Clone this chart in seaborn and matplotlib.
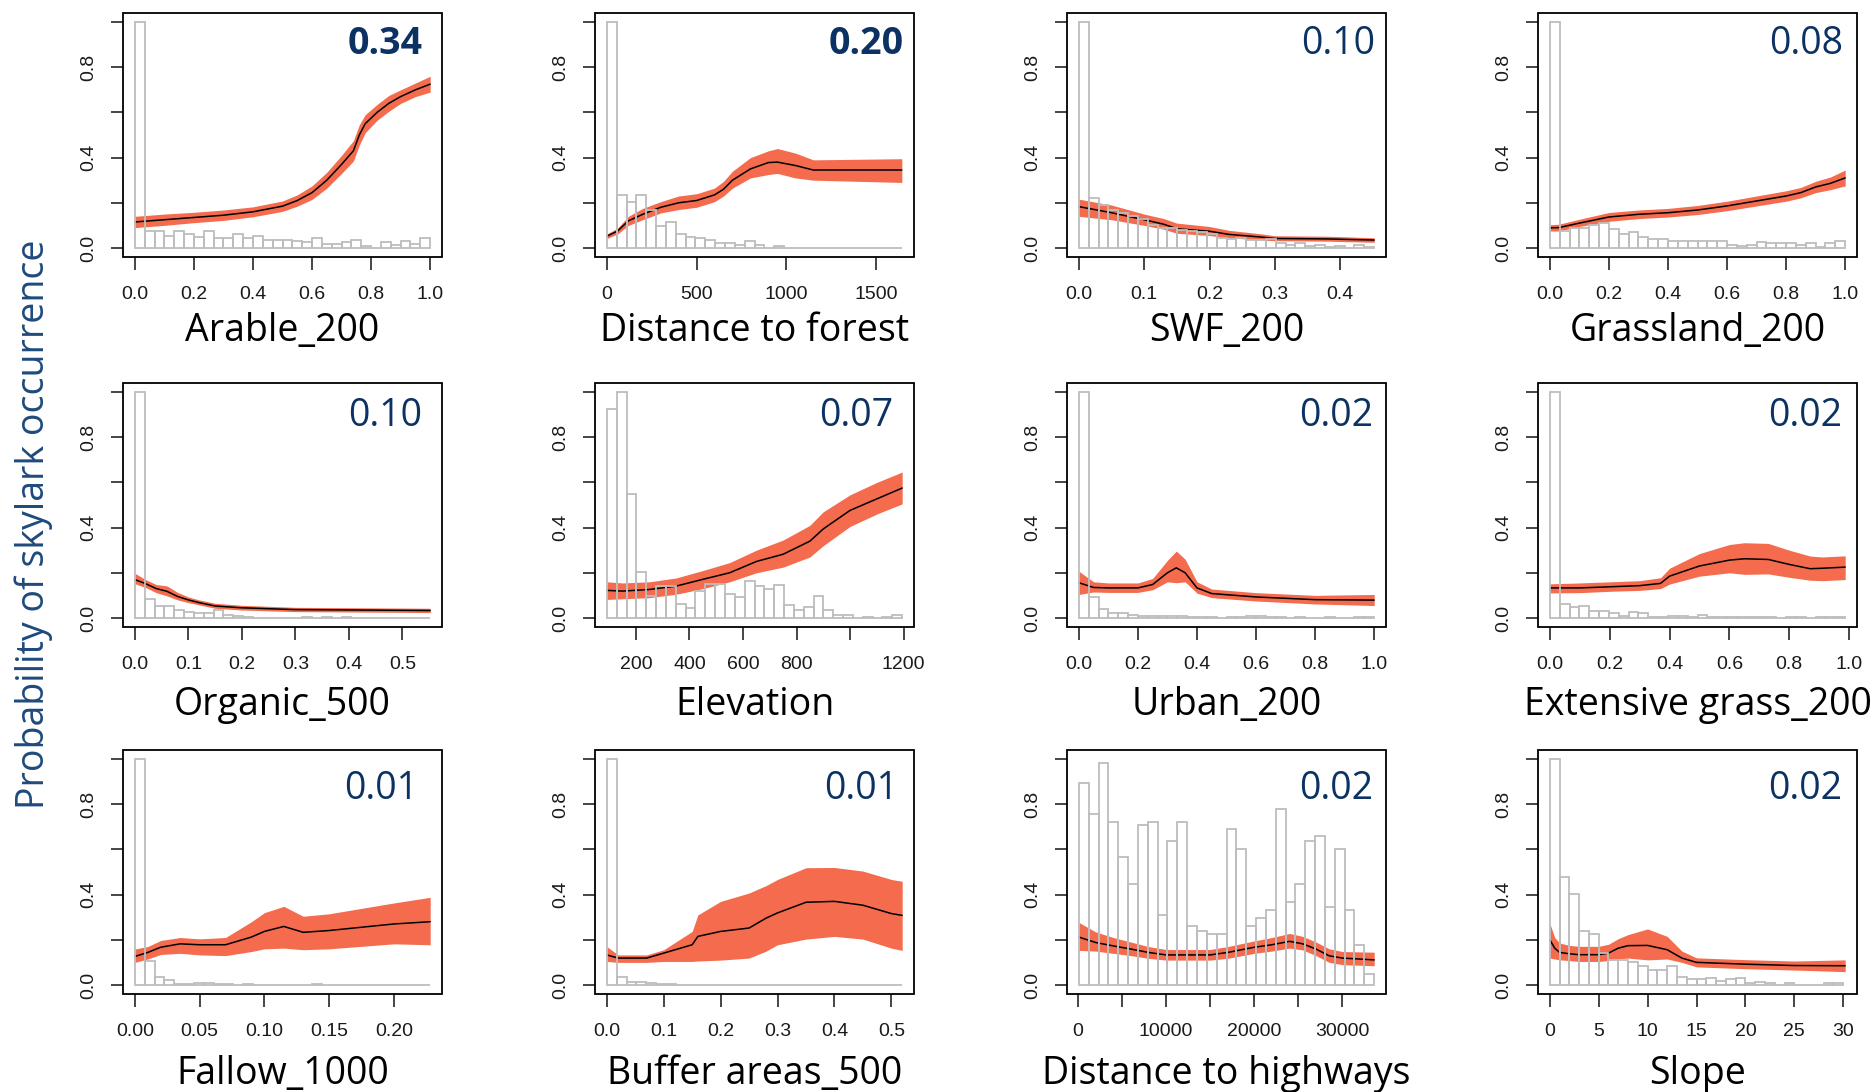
import numpy as np
import matplotlib
matplotlib.use("Agg")
import matplotlib.pyplot as plt
from matplotlib.patches import Rectangle
import seaborn as sns

# ---- data (partial dependence plots) ----
# 1 Arable_200
arable_x = [0, 0.1, 0.2, 0.3, 0.4, 0.5, 0.55, 0.6, 0.65, 0.7, 0.74, 0.76, 0.78, 0.82, 0.86, 0.9, 0.95, 1.0]
arable_mean = [0.115, 0.125, 0.135, 0.145, 0.16, 0.185, 0.21, 0.245, 0.30, 0.37, 0.43, 0.50, 0.55, 0.60, 0.64, 0.67, 0.70, 0.725]
arable_lo = [0.09, 0.10, 0.112, 0.122, 0.138, 0.162, 0.185, 0.215, 0.265, 0.33, 0.385, 0.455, 0.51, 0.565, 0.605, 0.64, 0.67, 0.69]
arable_hi = [0.14, 0.15, 0.158, 0.168, 0.182, 0.208, 0.235, 0.275, 0.335, 0.41, 0.475, 0.545, 0.59, 0.635, 0.675, 0.70, 0.73, 0.76]
arable_hist = [1.0, 0.077, 0.077, 0.055, 0.077, 0.064, 0.05, 0.077, 0.042, 0.042, 0.064, 0.042, 0.055, 0.034, 0.034,
               0.034, 0.03, 0.027, 0.042, 0.019, 0.019, 0.027, 0.034, 0.007, 0.0, 0.027, 0.015, 0.03, 0.019, 0.042]

# 2 Distance to forest
forest_x = [0, 60, 120, 200, 300, 400, 500, 600, 650, 700, 800, 900, 950, 1050, 1150, 1643]
forest_mean = [0.052, 0.075, 0.12, 0.149, 0.18, 0.20, 0.21, 0.235, 0.26, 0.30, 0.35, 0.378, 0.38, 0.365, 0.345, 0.345]
forest_lo = [0.042, 0.062, 0.10, 0.125, 0.155, 0.17, 0.18, 0.205, 0.23, 0.265, 0.31, 0.325, 0.33, 0.31, 0.30, 0.29]
forest_hi = [0.062, 0.088, 0.14, 0.175, 0.205, 0.23, 0.24, 0.265, 0.295, 0.34, 0.40, 0.43, 0.44, 0.42, 0.39, 0.395]
forest_hist = [1.0, 0.234, 0.204, 0.234, 0.168, 0.097, 0.115, 0.064, 0.05, 0.042, 0.034, 0.02, 0.02, 0.015, 0.03,
               0.015, 0.0, 0.007, 0, 0, 0, 0, 0, 0, 0, 0, 0, 0, 0, 0]

# 3 SWF_200
swf_x = [0, 0.05, 0.1, 0.13, 0.15, 0.2, 0.23, 0.28, 0.3, 0.38, 0.452]
swf_mean = [0.183, 0.156, 0.125, 0.105, 0.085, 0.074, 0.06, 0.048, 0.042, 0.04, 0.035]
swf_lo = [0.14, 0.125, 0.10, 0.083, 0.065, 0.055, 0.045, 0.035, 0.032, 0.03, 0.025]
swf_hi = [0.216, 0.19, 0.15, 0.13, 0.11, 0.095, 0.078, 0.062, 0.054, 0.052, 0.045]
swf_hist = [1.0, 0.219, 0.19, 0.17, 0.155, 0.14, 0.13, 0.10, 0.09, 0.09, 0.08, 0.075, 0.07, 0.06, 0.045,
            0.04, 0.045, 0.035, 0.035, 0.04, 0.02, 0.015, 0.02, 0.01, 0.015, 0.005, 0.01, 0.0, 0.015, 0.005]

# 4 Grassland_200
grass_x = [0, 0.03, 0.1, 0.2, 0.3, 0.4, 0.5, 0.6, 0.7, 0.8, 0.85, 0.9, 0.95, 1.0]
grass_mean = [0.089, 0.09, 0.11, 0.137, 0.149, 0.156, 0.168, 0.186, 0.208, 0.23, 0.245, 0.27, 0.286, 0.31]
grass_lo = [0.075, 0.075, 0.095, 0.118, 0.13, 0.137, 0.148, 0.165, 0.186, 0.207, 0.222, 0.245, 0.258, 0.275]
grass_hi = [0.103, 0.105, 0.127, 0.157, 0.168, 0.175, 0.188, 0.207, 0.23, 0.253, 0.268, 0.295, 0.314, 0.345]
grass_hist = [1.0, 0.074, 0.09, 0.09, 0.10, 0.11, 0.082, 0.06, 0.07, 0.05, 0.04, 0.04, 0.03, 0.03, 0.03,
              0.03, 0.03, 0.03, 0.015, 0.01, 0.015, 0.025, 0.02, 0.02, 0.02, 0.015, 0.02, 0.005, 0.02, 0.03]

# 5 Organic_500
organic_x = [0, 0.02, 0.04, 0.06, 0.08, 0.1, 0.12, 0.15, 0.2, 0.3, 0.552]
organic_mean = [0.17, 0.152, 0.13, 0.118, 0.095, 0.08, 0.068, 0.053, 0.045, 0.037, 0.033]
organic_lo = [0.152, 0.135, 0.112, 0.098, 0.08, 0.068, 0.058, 0.043, 0.035, 0.028, 0.024]
organic_hi = [0.198, 0.17, 0.148, 0.142, 0.113, 0.093, 0.08, 0.065, 0.056, 0.047, 0.043]
organic_hist = [1.0, 0.084, 0.055, 0.055, 0.035, 0.025, 0.02, 0.02, 0.034, 0.012, 0.01, 0.005, 0.002, 0.002, 0.002,
                0.002, 0.0, 0.003, 0.0, 0.003, 0.0, 0.003, 0, 0, 0, 0, 0, 0, 0, 0]

# 6 Elevation
elev_x = [91, 150, 250, 350, 450, 550, 650, 750, 850, 900, 1000, 1100, 1195]
elev_mean = [0.122, 0.119, 0.126, 0.141, 0.171, 0.2, 0.25, 0.282, 0.34, 0.394, 0.476, 0.527, 0.575]
elev_lo = [0.082, 0.085, 0.09, 0.105, 0.13, 0.16, 0.2, 0.225, 0.27, 0.32, 0.405, 0.46, 0.505]
elev_hi = [0.16, 0.155, 0.16, 0.177, 0.21, 0.245, 0.3, 0.345, 0.41, 0.47, 0.545, 0.6, 0.646]
elev_hist = [0.926, 1.0, 0.55, 0.205, 0.097, 0.14, 0.14, 0.062, 0.042, 0.12, 0.15, 0.15, 0.107, 0.092, 0.163,
             0.141, 0.126, 0.146, 0.056, 0.034, 0.049, 0.097, 0.037, 0.012, 0.012, 0.0, 0.004, 0.0, 0.004, 0.015]

# 7 Urban_200
urban_x = [0, 0.05, 0.1, 0.2, 0.25, 0.3, 0.33, 0.36, 0.4, 0.45, 0.6, 0.8, 1.0]
urban_mean = [0.156, 0.135, 0.133, 0.133, 0.148, 0.2, 0.222, 0.2, 0.133, 0.108, 0.093, 0.081, 0.079]
urban_lo = [0.104, 0.115, 0.113, 0.113, 0.125, 0.16, 0.156, 0.16, 0.11, 0.09, 0.075, 0.062, 0.055]
urban_hi = [0.207, 0.16, 0.155, 0.155, 0.175, 0.255, 0.296, 0.26, 0.16, 0.128, 0.112, 0.1, 0.104]
urban_hist = [1.0, 0.092, 0.04, 0.02, 0.02, 0.012, 0.01, 0.01, 0.01, 0.01, 0.01, 0.003, 0.003, 0.003, 0.0,
              0.003, 0.003, 0.01, 0.01, 0.003, 0.003, 0.0, 0.003, 0.0, 0.0, 0.003, 0.0, 0.0, 0.003, 0.003]

# 8 Extensive grass_200
extgr_x = [0, 0.1, 0.2, 0.3, 0.37, 0.4, 0.5, 0.6, 0.65, 0.73, 0.8, 0.87, 0.91, 0.987]
extgr_mean = [0.133, 0.133, 0.138, 0.143, 0.153, 0.185, 0.23, 0.256, 0.262, 0.259, 0.237, 0.218, 0.22, 0.225]
extgr_lo = [0.111, 0.112, 0.118, 0.122, 0.13, 0.15, 0.185, 0.2, 0.193, 0.195, 0.18, 0.167, 0.165, 0.17]
extgr_hi = [0.151, 0.155, 0.16, 0.165, 0.178, 0.22, 0.285, 0.325, 0.333, 0.33, 0.3, 0.274, 0.27, 0.275]
extgr_hist = [1.0, 0.062, 0.047, 0.055, 0.03, 0.032, 0.02, 0.01, 0.025, 0.02, 0.005, 0.003, 0.01, 0.01, 0.005,
              0.012, 0.003, 0.003, 0.003, 0.003, 0.003, 0.003, 0.003, 0.0, 0.003, 0.003, 0.0, 0.003, 0.003, 0.003]

# 9 Fallow_1000
fallow_x = [0, 0.01, 0.02, 0.035, 0.05, 0.07, 0.09, 0.1, 0.115, 0.13, 0.15, 0.2, 0.228]
fallow_mean = [0.126, 0.144, 0.167, 0.182, 0.178, 0.178, 0.212, 0.237, 0.259, 0.233, 0.241, 0.27, 0.28]
fallow_lo = [0.1, 0.115, 0.135, 0.14, 0.133, 0.13, 0.148, 0.16, 0.163, 0.156, 0.16, 0.182, 0.178]
fallow_hi = [0.159, 0.17, 0.197, 0.21, 0.204, 0.21, 0.28, 0.32, 0.348, 0.304, 0.315, 0.363, 0.388]
fallow_hist = [1.0, 0.104, 0.034, 0.02, 0.005, 0.005, 0.01, 0.008, 0.005, 0.003, 0.0, 0.005, 0, 0, 0,
               0, 0, 0, 0.005, 0, 0, 0, 0, 0, 0, 0, 0, 0, 0, 0]

# 10 Buffer areas_500
buffer_x = [0, 0.02, 0.07, 0.1, 0.15, 0.16, 0.2, 0.25, 0.28, 0.3, 0.35, 0.4, 0.45, 0.5, 0.519]
buffer_mean = [0.133, 0.119, 0.119, 0.141, 0.178, 0.215, 0.237, 0.252, 0.296, 0.319, 0.366, 0.37, 0.353, 0.316, 0.308]
buffer_lo = [0.104, 0.1, 0.1, 0.104, 0.104, 0.106, 0.11, 0.119, 0.15, 0.178, 0.203, 0.215, 0.203, 0.163, 0.153]
buffer_hi = [0.17, 0.133, 0.133, 0.156, 0.237, 0.31, 0.37, 0.407, 0.44, 0.467, 0.519, 0.52, 0.504, 0.467, 0.459]
buffer_hist = [1.0, 0.035, 0.012, 0.012, 0.007, 0.005, 0.003, 0, 0, 0, 0, 0, 0, 0, 0,
               0, 0, 0, 0, 0, 0, 0, 0, 0, 0, 0, 0, 0, 0, 0]

# 11 Distance to highways
highway_x = [100, 2000, 4000, 6000, 8000, 10000, 15000, 17000, 20000, 22000, 24000, 25500, 27000, 28500, 30000, 33600]
highway_mean = [0.212, 0.188, 0.173, 0.159, 0.144, 0.133, 0.133, 0.144, 0.167, 0.178, 0.193, 0.182, 0.159, 0.129, 0.119, 0.111]
highway_lo = [0.153, 0.15, 0.14, 0.13, 0.118, 0.11, 0.11, 0.118, 0.14, 0.15, 0.163, 0.155, 0.13, 0.1, 0.09, 0.085]
highway_hi = [0.277, 0.235, 0.21, 0.19, 0.17, 0.157, 0.157, 0.17, 0.195, 0.21, 0.228, 0.215, 0.19, 0.16, 0.148, 0.145]
highway_hist = [0.896, 0.756, 0.981, 0.721, 0.567, 0.449, 0.707, 0.721, 0.311, 0.637, 0.721, 0.259, 0.237, 0.225, 0.225,
                0.692, 0.604, 0.259, 0.296, 0.33, 0.778, 0.366, 0.449, 0.637, 0.659, 0.345, 0.604, 0.33, 0.175, 0.047]

# 12 Slope
slope_x = [0, 0.5, 1, 2, 3, 5, 6, 7, 8, 10, 12, 13.5, 15, 20, 25, 30.2]
slope_mean = [0.2, 0.163, 0.144, 0.138, 0.134, 0.134, 0.141, 0.163, 0.174, 0.175, 0.156, 0.119, 0.1, 0.092, 0.086, 0.085]
slope_lo = [0.119, 0.115, 0.111, 0.108, 0.104, 0.104, 0.108, 0.115, 0.119, 0.111, 0.115, 0.1, 0.08, 0.072, 0.066, 0.059]
slope_hi = [0.272, 0.21, 0.186, 0.175, 0.171, 0.171, 0.18, 0.205, 0.223, 0.248, 0.215, 0.15, 0.12, 0.112, 0.106, 0.111]
slope_hist = [1.0, 0.478, 0.401, 0.241, 0.226, 0.141, 0.111, 0.111, 0.1, 0.085, 0.067, 0.067, 0.082, 0.034, 0.025,
              0.025, 0.03, 0.019, 0.025, 0.03, 0.007, 0.015, 0.007, 0.0, 0.007, 0.0, 0.0, 0.0, 0.007, 0.007]

var_names = ["Arable_200", "Distance to forest", "SWF_200", "Grassland_200",
             "Organic_500", "Elevation", "Urban_200", "Extensive grass_200",
             "Fallow_1000", "Buffer areas_500", "Distance to highways", "Slope"]
importance = ["0.34", "0.20", "0.10", "0.08", "0.10", "0.07", "0.02", "0.02", "0.01", "0.01", "0.02", "0.02"]
bold_importance = [True, True] + [False] * 10
hist_ranges = [(0, 1), (0, 1645), (0, 0.452), (0, 1), (0, 0.552), (91, 1195),
               (0, 1), (0, 0.987), (0, 0.228), (0, 0.519), (100, 33600), (0, 30)]

r01 = [0, 0.2, 0.4, 0.6, 0.8, 1.0]
r01_lab = ["0.0", "0.2", "0.4", "0.6", "0.8", "1.0"]
x_ticks = [r01, [0, 500, 1000, 1500], [0, 0.1, 0.2, 0.3, 0.4], r01,
           [0, 0.1, 0.2, 0.3, 0.4, 0.5], [200, 400, 600, 800, 1000, 1200], r01, r01,
           [0, 0.05, 0.10, 0.15, 0.20], [0, 0.1, 0.2, 0.3, 0.4, 0.5],
           [0, 5000, 10000, 15000, 20000, 25000, 30000], [0, 5, 10, 15, 20, 25, 30]]
x_ticklabels = [r01_lab, ["0", "500", "1000", "1500"], ["0.0", "0.1", "0.2", "0.3", "0.4"], r01_lab,
                ["0.0", "0.1", "0.2", "0.3", "0.4", "0.5"], ["200", "400", "600", "800", "", "1200"],
                r01_lab, r01_lab, ["0.00", "0.05", "0.10", "0.15", "0.20"],
                ["0.0", "0.1", "0.2", "0.3", "0.4", "0.5"],
                ["0", "", "10000", "", "20000", "", "30000"], ["0", "5", "10", "15", "20", "25", "30"]]
y_ticks = [0, 0.2, 0.4, 0.6, 0.8, 1.0]
y_ticklabels = ["0.0", "", "0.4", "", "0.8", ""]

panels = [
    (arable_x, arable_mean, arable_lo, arable_hi, arable_hist),
    (forest_x, forest_mean, forest_lo, forest_hi, forest_hist),
    (swf_x, swf_mean, swf_lo, swf_hi, swf_hist),
    (grass_x, grass_mean, grass_lo, grass_hi, grass_hist),
    (organic_x, organic_mean, organic_lo, organic_hi, organic_hist),
    (elev_x, elev_mean, elev_lo, elev_hi, elev_hist),
    (urban_x, urban_mean, urban_lo, urban_hi, urban_hist),
    (extgr_x, extgr_mean, extgr_lo, extgr_hi, extgr_hist),
    (fallow_x, fallow_mean, fallow_lo, fallow_hi, fallow_hist),
    (buffer_x, buffer_mean, buffer_lo, buffer_hi, buffer_hist),
    (highway_x, highway_mean, highway_lo, highway_hi, highway_hist),
    (slope_x, slope_mean, slope_lo, slope_hi, slope_hist),
]

# ---- style ----
sns.set_style("white")
plt.rcParams["font.family"] = ["Open Sans", "DejaVu Sans"]

band_col = "#F46B4E"
hist_col = "#BDBDBD"
num_col = "#0B3262"
ylab_col = "#1E4A7C"
tick_col = "#1a1a1a"

W, H = 1876, 1092
fig = plt.figure(figsize=(W / 100, H / 100), dpi=100)

col_left = [123, 595, 1067, 1538]
row_top = [13, 383, 750]
box_w, box_h = 319, 244
xlab_y = [-0.345, -0.36, -0.37]       # baseline of variable name, per row
num_y = [0.83, 0.825, 0.8]            # baseline of importance value, per row
num_x = [0.94, 0.969, 0.966, 0.956, 0.937, 0.934, 0.96, 0.953, 0.925, 0.95, 0.96, 0.953]

for i, (xs, mean, lo, hi, hist) in enumerate(panels):
    r, c = divmod(i, 4)
    ax = fig.add_axes([col_left[c] / W, 1 - (row_top[r] + box_h) / H, box_w / W, box_h / H])

    # confidence band, fitted mean, then unfilled histogram on top (as in R)
    ax.fill_between(xs, lo, hi, color=band_col, lw=0, zorder=1)
    sns.lineplot(x=xs, y=mean, color="black", linewidth=1.1, ax=ax, zorder=2)

    h0, h1 = hist_ranges[i]
    edges = np.linspace(h0, h1, len(hist) + 1)
    ax.bar(edges[:-1], hist, width=np.diff(edges), align="edge", fill=False,
           edgecolor=hist_col, linewidth=1.3, zorder=3)

    x0, x1 = min(xs[0], h0), max(xs[-1], h1)
    ext = (x1 - x0) * 0.04
    ax.set_xlim(x0 - ext, x1 + ext)
    ax.set_ylim(-0.04, 1.04)

    for s in ax.spines.values():
        s.set_visible(False)
    ax.add_patch(Rectangle((0, 0), 1, 1, transform=ax.transAxes, fill=False,
                           edgecolor="black", lw=1.3, clip_on=False, zorder=5))

    ax.tick_params(axis="x", direction="out", length=9, width=1.2, pad=12, bottom=True,
                   labelsize=14, labelcolor=tick_col, labelfontfamily="Liberation Sans")
    ax.tick_params(axis="y", direction="out", length=8.5, width=1.2, pad=10, left=True,
                   labelsize=14, labelcolor=tick_col, labelfontfamily="Liberation Sans")
    ax.set_xticks(x_ticks[i])
    ax.set_xticklabels(x_ticklabels[i], fontsize=14, family="Liberation Sans", color=tick_col)
    ax.set_yticks(y_ticks)
    ax.set_yticklabels(y_ticklabels, fontsize=14, family="Liberation Sans", color=tick_col,
                       rotation=90, va="center")

    ax.set_xlabel("")
    ax.set_ylabel("")
    ax.text(0.5, xlab_y[r], var_names[i], transform=ax.transAxes, ha="center", va="baseline",
            fontsize=27, color="black")
    ax.text(num_x[i], num_y[r], importance[i], transform=ax.transAxes, ha="right", va="baseline",
            fontsize=27, color=num_col, fontweight="bold" if bold_importance[i] else "normal")

fig.text(0.018, 0.52, "Probability of skylark occurrence", rotation=90, ha="center", va="center",
         fontsize=27, color=ylab_col)

fig.savefig("out.png", dpi=100)
